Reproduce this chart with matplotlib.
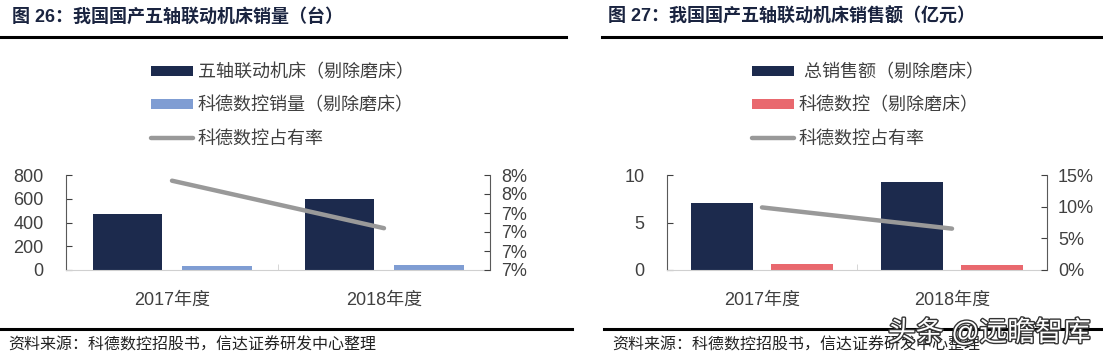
import numpy as np
import matplotlib.pyplot as plt
import matplotlib.patheffects as pe
from matplotlib.ticker import FuncFormatter, FixedLocator

plt.rcParams['font.family'] = ['Liberation Sans', 'Noto Sans CJK SC', 'DejaVu Sans']

years = ['2017年度', '2018年度']

# 图26 销量（台）
total_units = [472, 602]
kede_units = [34, 42]
share_units = [7.74, 7.24]  # %

# 图27 销售额（亿元）
total_sales = [7.07, 9.3]
kede_sales = [0.66, 0.56]
share_sales = [9.88, 6.53]  # %

navy = '#1c2a4d'
light_blue = '#7f9dd3'
red = '#e9686e'
grey = '#999999'
txt = '#404040'

W, H = 1103, 358
fig = plt.figure(figsize=(W / 100, H / 100), dpi=100)


def fx(px):
    return px / W


def fy(py):
    return 1 - py / H


def panel(x0, x1, bars1, bars2, c2, line, labels, rlim, rticks, rfmt, llim, lticks, leg_x):
    ax = fig.add_axes([fx(x0), fy(270), fx(x1 - x0), fy(175) - fy(270)])
    x = np.arange(len(years))
    w = 0.33
    b1 = ax.bar(x - 0.21, bars1, w, color=navy, zorder=2)
    b2 = ax.bar(x + 0.21, bars2, w, color=c2, zorder=2)
    ax.set_xlim(-0.5, 1.5)
    ax.set_ylim(*llim)
    ax.set_yticks(lticks)
    ax.set_xticks(x)
    ax.set_xticklabels(years)
    ax.xaxis.set_minor_locator(FixedLocator([0.5]))
    ax.tick_params(axis='x', which='major', length=0, pad=16, labelsize=13, labelcolor=txt)
    ax.tick_params(axis='x', which='minor', length=4, color='#d0d0d0', direction='in')
    ax.tick_params(axis='y', direction='in', length=4, color='#404040', labelsize=13,
                   labelcolor=txt, pad=16)
    for s in ['top', 'right']:
        ax.spines[s].set_visible(False)
    ax.spines['bottom'].set_color('#d0d0d0')
    ax.spines['left'].set_color('#595959')

    ax2 = ax.twinx()
    ln, = ax2.plot(x, line, color=grey, lw=3.2, solid_capstyle='round', zorder=3)
    ax2.set_ylim(*rlim)
    ax2.set_yticks(rticks)
    ax2.yaxis.set_major_formatter(FuncFormatter(rfmt))
    ax2.tick_params(axis='y', direction='in', length=4, color='#404040', labelsize=13,
                    labelcolor=txt, pad=8)
    for s in ['top', 'left', 'bottom']:
        ax2.spines[s].set_visible(False)
    ax2.spines['right'].set_color('#595959')

    fig.legend([b1, b2, ln], labels, loc='upper left',
               bbox_to_anchor=(fx(leg_x), fy(64)), frameon=False, fontsize=13,
               handlelength=2.35, handleheight=0.5, handletextpad=0.25,
               labelspacing=0.88, borderaxespad=0, borderpad=0, labelcolor=txt)


panel(66, 490, total_units, kede_units, light_blue, share_units,
      ['五轴联动机床（剔除磨床）', '科德数控销量（剔除磨床）', '科德数控占有率'],
      (6.8, 7.8), [6.8, 7.0, 7.2, 7.4, 7.6, 7.8], lambda v, p: '%.0f%%' % v,
      (0, 800), [0, 200, 400, 600, 800], 151)

panel(667, 1047, total_sales, kede_sales, red, share_sales,
      [' 总销售额（剔除磨床）', '科德数控（剔除磨床）', '科德数控占有率'],
      (0, 15), [0, 5, 10, 15], lambda v, p: '%.0f%%' % v,
      (0, 10), [0, 5, 10], 752)

# titles and rules
title_kw = dict(fontsize=13, fontweight='bold', color='#1a2440', va='center',
                family=['Liberation Sans', 'Noto Sans CJK SC'])
fig.text(fx(12), fy(17), '图 26：我国国产五轴联动机床销量（台）', **title_kw)
fig.text(fx(608), fy(17), '图 27：我国国产五轴联动机床销售额（亿元）', **title_kw)

fig.add_artist(plt.Line2D([0, fx(566)], [fy(37), fy(37)], color='black', lw=2.2))
fig.add_artist(plt.Line2D([fx(602), 1], [fy(37), fy(37)], color='black', lw=2.2))
fig.add_artist(plt.Line2D([0, fx(572)], [fy(329), fy(329)], color='black', lw=2.2))
fig.add_artist(plt.Line2D([fx(604), 1], [fy(329), fy(329)], color='black', lw=2.2))

src = '资料来源：科德数控招股书，信达证券研发中心整理'
fig.text(fx(8), fy(345), src, fontsize=11.5, color='#222222', va='center', style='italic')
fig.text(fx(612), fy(345), src, fontsize=11.5, color='#222222', va='center', style='italic')

fig.text(fx(888), fy(333), '头条 @远瞻智库', fontsize=20, color='white', va='center',
         path_effects=[pe.withStroke(linewidth=2, foreground='#333333')])

fig.savefig('out.png', dpi=100)
